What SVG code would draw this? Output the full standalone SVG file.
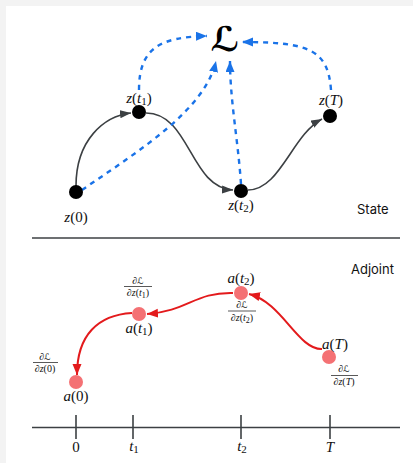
<svg xmlns="http://www.w3.org/2000/svg" width="413" height="463" viewBox="0 0 413 463">
<style>
.m{font-family:"Liberation Serif","DejaVu Serif",serif;font-size:15px;fill:#111;text-anchor:middle}
.f{font-family:"Liberation Serif","DejaVu Serif",serif;font-size:10px;fill:#111;text-anchor:middle}
.i{font-style:italic}
.cl{font-family:"DejaVu Sans",sans-serif;font-size:9px}
.lab{font-family:Inter,Roboto,"Liberation Sans",sans-serif;font-size:13px;fill:#111}
.solid{fill:none;stroke:#3c4043;stroke-width:1.6}
.dash{fill:none;stroke:#1a73e8;stroke-width:2.4;stroke-dasharray:5 5}
.red{fill:none;stroke:#e31a1c;stroke-width:2}
.zn{fill:#000}
.an{fill:#f47174}
.rule{stroke:#3c4043;stroke-width:1.6}
.fl{stroke:#111;stroke-width:0.7}
</style>
<defs>
<marker id="ag" markerUnits="userSpaceOnUse" markerWidth="12" markerHeight="10" refX="11" refY="4" orient="auto"><path d="M0,0 L11,4 L0,8 z" fill="#3c4043"/></marker>
<marker id="ab" markerUnits="userSpaceOnUse" markerWidth="12" markerHeight="10" refX="11" refY="4.5" orient="auto"><path d="M0,0 L11,4.5 L0,9 z" fill="#1a73e8"/></marker>
<marker id="ar" markerUnits="userSpaceOnUse" markerWidth="12" markerHeight="10" refX="11" refY="4.5" orient="auto"><path d="M0,0 L11,4.5 L0,9 z" fill="#e31a1c"/></marker>
</defs>
<rect x="0" y="0" width="413" height="463" fill="#f3f3f3"/>
<rect x="6" y="6" width="407" height="457" fill="#fff"/>

<g id="connectors">
<path class="solid" d="M76,186 C76,140 104,116 131,113" marker-end="url(#ag)"/>
<path class="solid" d="M146,113 C190,113 190,188 233,190" marker-end="url(#ag)"/>
<path class="solid" d="M248,190 C280,190 292,135 322,119" marker-end="url(#ag)"/>
<path class="dash" d="M139,90 C139,48 160,37 207,36" marker-end="url(#ab)"/>
<path class="dash" d="M331,90 C328,50 310,42 242,42" marker-end="url(#ab)"/>
<path class="dash" d="M82,190 C140,150 205,110 216,61" marker-end="url(#ab)"/>
<path class="dash" d="M241,184 C238,140 230,100 230,61" marker-end="url(#ab)"/>
<path class="red" d="M322,349 C298,350 282,302 249,294" marker-end="url(#ar)"/>
<path class="red" d="M233,293 C195,292 188,311 147,314" marker-end="url(#ar)"/>
<path class="red" d="M132,313 C98,315 77,335 77,375" marker-end="url(#ar)"/>
</g>

<g id="L"><text x="225" y="51" text-anchor="middle" font-family="DejaVu Sans,sans-serif" font-size="34" font-weight="bold" fill="#000">ℒ</text></g>

<g id="z0"><circle class="zn" cx="76" cy="192" r="7"/><text class="m" x="76" y="222"><tspan class="i">z</tspan>(0)</text></g>
<g id="zt1"><circle class="zn" cx="139" cy="112" r="7"/><text class="m" x="139" y="103"><tspan class="i">z</tspan>(<tspan class="i">t</tspan><tspan font-size="11" dy="2">1</tspan><tspan dy="-2">)</tspan></text></g>
<g id="zt2"><circle class="zn" cx="241" cy="191" r="7"/><text class="m" x="241" y="210"><tspan class="i">z</tspan>(<tspan class="i">t</tspan><tspan font-size="11" dy="2">2</tspan><tspan dy="-2">)</tspan></text></g>
<g id="zT"><circle class="zn" cx="330" cy="116" r="7"/><text class="m" x="331" y="105"><tspan class="i">z</tspan>(<tspan class="i">T</tspan>)</text></g>
<text class="lab" x="357" y="214">State</text>

<line class="rule" x1="32" y1="238" x2="400" y2="238"/>
<text class="lab" x="351" y="274">Adjoint</text>

<g id="a0"><circle class="an" cx="76" cy="382" r="7"/><text class="m" x="76" y="401"><tspan class="i">a</tspan>(0)</text>
<text class="f" x="45" y="360">∂<tspan class="cl">ℒ</tspan></text><line class="fl" x1="33" y1="362.5" x2="58" y2="362.5"/><text class="f" x="45" y="372">∂<tspan class="i">z</tspan>(0)</text></g>
<g id="at1"><circle class="an" cx="139" cy="314" r="7"/><text class="m" x="139" y="333"><tspan class="i">a</tspan>(<tspan class="i">t</tspan><tspan font-size="11" dy="2">1</tspan><tspan dy="-2">)</tspan></text>
<text class="f" x="138" y="284">∂<tspan class="cl">ℒ</tspan></text><line class="fl" x1="124" y1="286.5" x2="152" y2="286.5"/><text class="f" x="138" y="296">∂<tspan class="i">z</tspan>(<tspan class="i">t</tspan><tspan font-size="8" dy="1.5">1</tspan><tspan dy="-1.5">)</tspan></text></g>
<g id="at2"><circle class="an" cx="241" cy="293" r="7"/><text class="m" x="241" y="283"><tspan class="i">a</tspan>(<tspan class="i">t</tspan><tspan font-size="11" dy="2">2</tspan><tspan dy="-2">)</tspan></text>
<text class="f" x="242" y="308">∂<tspan class="cl">ℒ</tspan></text><line class="fl" x1="228" y1="311" x2="256" y2="311"/><text class="f" x="242" y="321">∂<tspan class="i">z</tspan>(<tspan class="i">t</tspan><tspan font-size="8" dy="1.5">2</tspan><tspan dy="-1.5">)</tspan></text></g>
<g id="aT"><circle class="an" cx="329" cy="357" r="7"/><text class="m" x="335" y="349"><tspan class="i">a</tspan>(<tspan class="i">T</tspan>)</text>
<text class="f" x="344" y="372">∂<tspan class="cl">ℒ</tspan></text><line class="fl" x1="331" y1="375.5" x2="358" y2="375.5"/><text class="f" x="344" y="385">∂<tspan class="i">z</tspan>(<tspan class="i">T</tspan>)</text></g>

<g id="axis">
<line class="rule" x1="32" y1="427.5" x2="400" y2="427.5"/>
<line class="rule" x1="76" y1="415" x2="76" y2="439"/>
<line class="rule" x1="133" y1="415" x2="133" y2="439"/>
<line class="rule" x1="241" y1="415" x2="241" y2="439"/>
<line class="rule" x1="330" y1="415" x2="330" y2="439"/>
<text class="m" x="76" y="452">0</text>
<text class="m" x="134" y="451"><tspan class="i">t</tspan><tspan font-size="11" dy="2">1</tspan></text>
<text class="m" x="242" y="451"><tspan class="i">t</tspan><tspan font-size="11" dy="2">2</tspan></text>
<text class="m" x="330" y="452"><tspan class="i">T</tspan></text>
</g>
</svg>
